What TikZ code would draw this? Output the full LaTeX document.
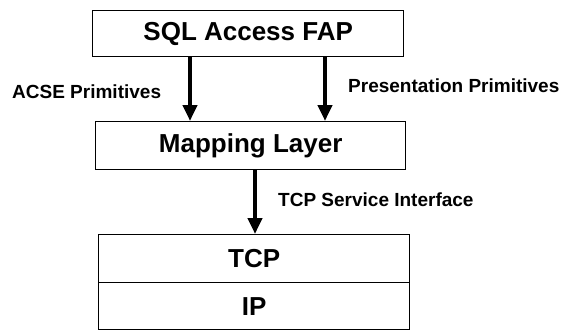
\documentclass[tikz,border=0pt]{standalone}
\usepackage{fontspec}
\setmainfont{Liberation Sans}
\usetikzlibrary{arrows.meta}
\begin{document}
\begin{tikzpicture}[x=1pt,y=-1pt,
  layerbox/.style={draw=black, line width=1.4pt, inner sep=0pt, anchor=north west,
    font=\fontsize{26}{30}\selectfont\bfseries},
  lbl/.style={inner sep=0pt, anchor=west, font=\fontsize{19}{22}\selectfont\bfseries},
  flow/.style={line width=4pt, -{Triangle[width=14pt,length=16pt]}}]
\useasboundingbox (0,0) rectangle (564,330);
% protocol stack boxes
\node[layerbox, minimum width=311pt, minimum height=46pt] (fap) at (92,10) {SQL Access FAP};
\node[layerbox, minimum width=310pt, minimum height=48pt] (map) at (95,121) {Mapping Layer};
\node[layerbox, minimum width=311pt, minimum height=48pt] (tcp) at (98,234) {TCP};
\node[layerbox, minimum width=311pt, minimum height=47pt] (ip) at (98,282) {IP};
% interface arrows
\coordinate (a1) at (190,56);
\coordinate (a2) at (325,56);
\coordinate (a3) at (255,169);
\draw[flow] (a1) -- (a1 |- map.north);
\draw[flow] (a2) -- (a2 |- map.north);
\draw[flow] (a3) -- (a3 |- tcp.north);
% arrow labels
\node[lbl] (acse) at (12,92) {ACSE Primitives};
\node[lbl] (pres) at (348,86) {Presentation Primitives};
\node[lbl] (tsi) at (278,200) {TCP Service Interface};
\end{tikzpicture}
\end{document}
